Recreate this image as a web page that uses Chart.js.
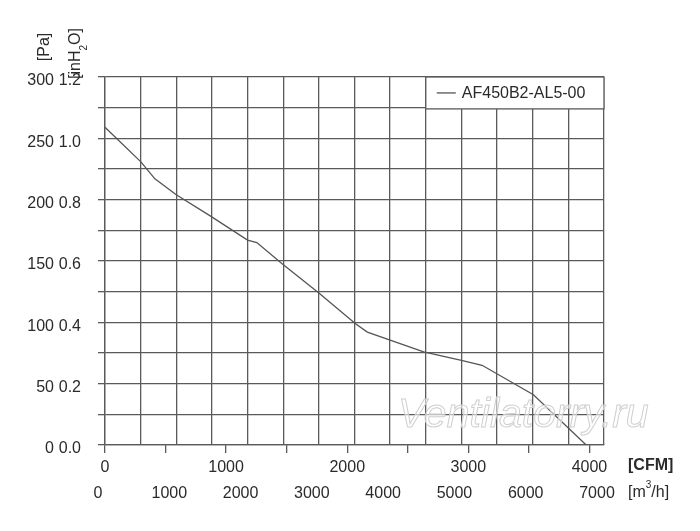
<!DOCTYPE html>
<html>
<head>
<meta charset="utf-8">
<script src="https://cdn.jsdelivr.net/npm/chart.js@4.4.1/dist/chart.umd.min.js"></script>
<style>
  html, body { margin: 0; padding: 0; background: #fff; }
  #wrap { width: 700px; height: 531px; }
</style>
</head>
<body>
<div id="wrap"><canvas id="fan"></canvas></div>
<script>
// curve: air flow [m3/h] vs static pressure [Pa]
const seriesName = "AF450B2-AL5-00";
const flowM3h = [0, 500, 700, 1000, 1470, 2000, 2130, 2480, 3000, 3510, 3680, 4470, 5000, 5290, 6010, 6750];
const pressurePa = [259, 231, 217, 204, 187, 167, 165, 148, 124, 99, 92, 76, 69, 65, 41, 0];

// axis ranges / tick steps
const m3hMax = 7000, m3hStep = 500, m3hLabelStep = 1000;
const cfmPerM3h = 1 / 1.699;
const cfmTicks = [0, 500, 1000, 1500, 2000, 2500, 3000, 3500, 4000];
const cfmLabelStep = 1000;
const paMax = 300, paLabelStep = 50;
const inh2oMax = 1.2, inh2oStep = 0.1;

const fam = "'Liberation Sans', Arial, sans-serif";
const tickFont = { family: fam, size: 16 };
const gridCol = "#5a5a5a";
const textCol = "#2a2a2a";

const extras = {
	id: "extras",
	afterDraw(chart) {
		const ctx = chart.ctx;
		const x = chart.scales.m3h, y = chart.scales.pa;
		ctx.save();
		ctx.textBaseline = "middle";

		// legend box in the upper right cells
		const lx = x.getPixelForValue(4500), rx = chart.chartArea.right;
		const ty = chart.chartArea.top, by = y.getPixelForValue(274);
		ctx.fillStyle = "#fff";
		ctx.fillRect(lx, ty, rx - lx, by - ty);
		ctx.strokeStyle = gridCol;
		ctx.lineWidth = 1.3;
		ctx.strokeRect(lx, ty, rx - lx, by - ty);
		const my = (ty + by) / 2;
		ctx.beginPath();
		ctx.moveTo(lx + 11, my);
		ctx.lineTo(lx + 30, my);
		ctx.strokeStyle = "#555";
		ctx.stroke();
		ctx.fillStyle = textCol;
		ctx.font = "16px " + fam;
		ctx.textAlign = "left";
		ctx.fillText(seriesName, lx + 36, my + 1);

		// unit labels of the y axes (rotated)
		ctx.font = "16px " + fam;
		ctx.save();
		ctx.translate(45, 47);
		ctx.rotate(-Math.PI / 2);
		ctx.textAlign = "center";
		ctx.fillText("[Pa]", 0, 0);
		ctx.restore();

		ctx.save();
		ctx.translate(76, 79);
		ctx.rotate(-Math.PI / 2);
		ctx.textAlign = "left";
		let t = "[inH";
		ctx.fillText(t, 0, 0);
		let w = ctx.measureText(t).width;
		ctx.font = "10px " + fam;
		ctx.fillText("2", w, 8);
		w += ctx.measureText("2").width;
		ctx.font = "16px " + fam;
		ctx.fillText("O]", w, 0);
		ctx.restore();

		// unit labels of the x axes
		ctx.textAlign = "left";
		ctx.font = "bold 16px " + fam;
		ctx.fillText("[CFM]", 628, 466);
		ctx.font = "16px " + fam;
		t = "[m";
		ctx.fillText(t, 628, 493);
		w = ctx.measureText(t).width;
		ctx.font = "10px " + fam;
		ctx.fillText("3", 628 + w, 485);
		w += ctx.measureText("3").width;
		ctx.font = "16px " + fam;
		ctx.fillText("/h]", 628 + w, 493);

		// watermark
		ctx.font = "italic 41px " + fam;
		ctx.textBaseline = "alphabetic";
		ctx.lineWidth = 1;
		ctx.fillStyle = "rgba(255,255,255,0.55)";
		ctx.strokeStyle = "#cfcfcf";
		ctx.fillText("Ventilatorry.ru", 398, 427);
		ctx.strokeText("Ventilatorry.ru", 398, 427);
		ctx.restore();
	},
};

new Chart(document.getElementById("fan").getContext("2d"), {
	type: "line",
	data: {
		datasets: [
			{
				label: seriesName,
				data: flowM3h.map((v, i) => ({ x: v, y: pressurePa[i] })),
				xAxisID: "m3h",
				yAxisID: "pa",
				borderColor: "#555",
				borderWidth: 1.3,
				pointRadius: 0,
				tension: 0,
				fill: false,
			},
		],
	},
	options: {
		responsive: true,
		maintainAspectRatio: false,
		animation: false,
		layout: { padding: { top: 77, right: 96, left: 0, bottom: 0 } },
		plugins: { legend: { display: false }, tooltip: { enabled: false } },
		scales: {
			m3h: {
				type: "linear",
				position: "bottom",
				weight: 1,
				min: 0,
				max: m3hMax,
				afterFit: (s) => { s.height = 53; },
				grid: { color: gridCol, lineWidth: 1.3, drawTicks: false },
				border: { display: false },
				ticks: {
					stepSize: m3hStep,
					autoSkip: false,
					maxRotation: 0,
					padding: 6,
					labelOffset: -7,
					color: textCol,
					font: tickFont,
					callback: (v) => (v % m3hLabelStep === 0 ? String(v) : ""),
				},
			},
			cfm: {
				type: "linear",
				position: "bottom",
				weight: 0,
				min: 0,
				max: m3hMax * cfmPerM3h,
				afterFit: (s) => { s.height = 33; },
				afterBuildTicks: (s) => { s.ticks = cfmTicks.map((v) => ({ value: v })); },
				grid: { drawOnChartArea: false, color: gridCol, lineWidth: 1.3, tickLength: 8 },
				border: { color: gridCol, width: 1.3 },
				ticks: {
					autoSkip: false,
					maxRotation: 0,
					padding: 5,
					color: textCol,
					font: tickFont,
					callback: (v) => (v % cfmLabelStep === 0 ? String(v) : ""),
				},
			},
			inh: {
				type: "linear",
				position: "left",
				weight: 0,
				min: 0,
				max: inh2oMax,
				afterFit: (s) => { s.width = 47; },
				grid: { color: gridCol, lineWidth: 1.3, tickLength: 7 },
				border: { color: gridCol, width: 1.3 },
				ticks: {
					stepSize: inh2oStep,
					autoSkip: false,
					padding: 17,
					labelOffset: 4,
					color: textCol,
					font: tickFont,
					callback: (v) => (Math.round(v * 10) % 2 === 0 ? v.toFixed(1) : ""),
				},
			},
			pa: {
				type: "linear",
				position: "left",
				weight: 1,
				min: 0,
				max: paMax,
				afterFit: (s) => { s.width = 58; },
				grid: { display: false, drawTicks: false },
				border: { display: false },
				ticks: {
					stepSize: paLabelStep,
					autoSkip: false,
					padding: 4,
					labelOffset: 4,
					color: textCol,
					font: tickFont,
				},
			},
		},
	},
	plugins: [extras],
});
</script>
</body>
</html>
